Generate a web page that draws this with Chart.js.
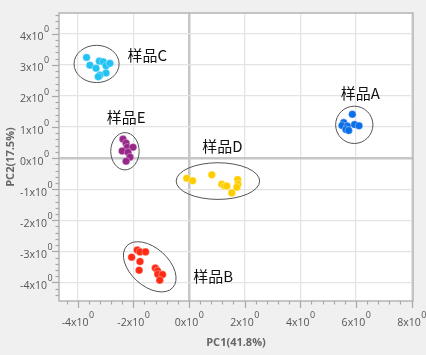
<!DOCTYPE html>
<html><head><meta charset="utf-8">
<script src="https://cdn.jsdelivr.net/npm/chart.js@4"></script>
<style>html,body{margin:0;padding:0;background:#f0f0f0;}canvas{display:block;}</style>
</head><body>
<canvas id="c" width="426" height="355"></canvas>
<script>
// ---- data ----
const categories = ['样品A','样品B','样品C','样品D','样品E'];
const sampleA_PC1 = [5.87,5.56,5.50,5.69,5.95,6.11,5.64,5.74];
const sampleA_PC2 = [1.41,1.14,1.05,1.03,1.08,1.04,0.92,0.89];
const sampleB_PC1 = [-2.06,-1.86,-1.76,-1.56,-1.76,-1.79,-1.21,-1.13,-1.12,-0.95,-1.05];
const sampleB_PC2 = [-3.19,-2.96,-3.02,-3.02,-3.33,-3.61,-3.54,-3.63,-3.74,-3.75,-3.93];
const sampleC_PC1 = [-3.68,-3.56,-3.22,-3.08,-3.34,-2.98,-2.84,-2.98,-3.20,-3.26];
const sampleC_PC2 = [3.24,2.99,3.12,3.10,2.89,2.97,3.05,2.74,2.67,2.62];
const sampleD_PC1 = [-0.08,0.13,0.82,1.18,1.28,1.36,1.54,1.75,1.76,1.72];
const sampleD_PC2 = [-0.65,-0.73,-0.54,-0.84,-0.90,-0.90,-1.12,-0.69,-0.84,-0.94];
const sampleE_PC1 = [-2.37,-2.26,-2.22,-2.01,-2.40,-2.19,-2.12,-2.26];
const sampleE_PC2 = [0.61,0.48,0.35,0.35,0.23,0.19,0.03,-0.10];

// confidence ellipses (data units): A, B, C, D, E
const ellipseCX = [5.94,-1.41,-3.32,1.04,-2.30];
const ellipseCY = [1.07,-3.50,3.03,-0.74,0.22];
const ellipseRX = [0.67,1.116,0.81,1.50,0.51];
const ellipseRY = [0.60,0.611,0.60,0.59,0.60];
const ellipseRotDeg = [0,42,0,0,0];

// group label anchors (data units)
const labelX = [6.16,0.87,-1.50,1.20,-2.26];
const labelY = [2.09,-3.81,3.31,0.38,1.32];

// ticks
const xTickValues = [-4,-2,0,2,4,6,8];
const xTickLabels = ['-4x10','-2x10','0x10','2x10','4x10','6x10','8x10'];
const yTickValues = [4,3,2,1,0,-1,-2,-3,-4];
const yTickLabels = ['4x10','3x10','2x10','1x10','0x10','-1x10','-2x10','-3x10','-4x10'];
const tickExponent = '0';
const xTitle = 'PC1(41.8%)';
const yTitle = 'PC2(17.5%)';

// ---- styles ----
const groupColors = ['#0a6fe8','#ff2b14','#22c2f2','#ffcc00','#98278a'];

const series = [
  [sampleA_PC1, sampleA_PC2],
  [sampleB_PC1, sampleB_PC2],
  [sampleC_PC1, sampleC_PC2],
  [sampleD_PC1, sampleD_PC2],
  [sampleE_PC1, sampleE_PC2]
];
const datasets = series.map((s, i) => ({
  label: categories[i],
  data: s[0].map((x, j) => ({x: x, y: s[1][j]})),
  backgroundColor: groupColors[i],
  borderColor: 'rgba(255,255,255,0.55)',
  borderWidth: 0.6,
  pointRadius: 3.8,
  pointHoverRadius: 3.8
}));

const MAIN_FONT = '10.5px "Open Sans"';
const SUP_FONT = '9px "Open Sans"';
const TICK_COLOR = '#555';

const decor = {
  id: 'decor',
  beforeDraw(chart) {
    const {ctx, chartArea: a} = chart;
    ctx.save();
    ctx.fillStyle = '#f0f0f0';
    ctx.fillRect(0, 0, chart.width, chart.height);
    ctx.fillStyle = '#ffffff';
    ctx.fillRect(a.left, a.top, a.right - a.left, a.bottom - a.top);
    ctx.restore();
  },
  afterDatasetsDraw(chart) {
    const {ctx} = chart;
    const xs = chart.scales.x, ys = chart.scales.y;
    const pxX = Math.abs(xs.getPixelForValue(1) - xs.getPixelForValue(0));
    const pxY = Math.abs(ys.getPixelForValue(1) - ys.getPixelForValue(0));
    ctx.save();
    // ellipses
    ctx.strokeStyle = '#555';
    ctx.lineWidth = 1;
    for (let i = 0; i < ellipseCX.length; i++) {
      ctx.beginPath();
      ctx.ellipse(xs.getPixelForValue(ellipseCX[i]), ys.getPixelForValue(ellipseCY[i]),
        ellipseRX[i] * pxX, ellipseRY[i] * pxY, ellipseRotDeg[i] * Math.PI / 180, 0, Math.PI * 2);
      ctx.stroke();
    }
    // labels
    ctx.fillStyle = '#111';
    ctx.font = '15px "Noto Sans CJK SC"';
    ctx.textAlign = 'center';
    ctx.textBaseline = 'middle';
    for (let i = 0; i < categories.length; i++) {
      ctx.fillText(categories[i], xs.getPixelForValue(labelX[i]), ys.getPixelForValue(labelY[i]));
    }
    ctx.restore();
  },
  afterDraw(chart) {
    const {ctx, chartArea: a} = chart;
    const xs = chart.scales.x, ys = chart.scales.y;
    ctx.save();
    // frame
    ctx.strokeStyle = '#b4b4b4';
    ctx.lineWidth = 1.5;
    ctx.strokeRect(a.left, a.top, a.right - a.left, a.bottom - a.top);
    // y tick marks
    ctx.strokeStyle = '#a8a8a8';
    ctx.lineWidth = 1.2;
    for (let k = -23; k <= 23; k++) {
      const v = k * 0.2;
      if (v < ys.min || v > ys.max) continue;
      const p = Math.round(ys.getPixelForValue(v)) + 0.5;
      const major = k % 5 === 0;
      ctx.beginPath();
      ctx.moveTo(a.left, p);
      ctx.lineTo(a.left - (major ? 7 : 3.5), p);
      ctx.stroke();
    }
    // x tick marks
    for (let k = -12; k <= 21; k++) {
      const v = k * 0.4;
      if (v < xs.min || v > xs.max + 0.01) continue;
      const p = Math.round(xs.getPixelForValue(v)) + 0.5;
      const major = k % 5 === 0;
      ctx.beginPath();
      ctx.moveTo(p, a.bottom);
      ctx.lineTo(p, a.bottom + (major ? 7 : 3.5));
      ctx.stroke();
    }
    // y tick labels
    ctx.fillStyle = TICK_COLOR;
    ctx.textBaseline = 'middle';
    ctx.textAlign = 'left';
    yTickValues.forEach((v, i) => {
      const p = ys.getPixelForValue(v);
      ctx.font = MAIN_FONT;
      const w = ctx.measureText(yTickLabels[i]).width;
      ctx.fillText(yTickLabels[i], 20, p + 3.5);
      ctx.font = SUP_FONT;
      ctx.fillText(tickExponent, 20 + w + 0.5, p - 4);
    });
    // x tick labels
    xTickValues.forEach((v, i) => {
      const p = xs.getPixelForValue(v);
      ctx.font = MAIN_FONT;
      const w = ctx.measureText(xTickLabels[i]).width;
      ctx.font = SUP_FONT;
      const sw = ctx.measureText(tickExponent).width;
      const start = p - (w + sw) / 2;
      ctx.font = MAIN_FONT;
      ctx.fillText(xTickLabels[i], start, a.bottom + 22);
      ctx.font = SUP_FONT;
      ctx.fillText(tickExponent, start + w + 0.5, a.bottom + 14);
    });
    ctx.restore();
  }
};

new Chart(document.getElementById('c'), {
  type: 'scatter',
  data: {datasets: datasets},
  options: {
    responsive: false,
    animation: false,
    events: [],
    layout: {padding: {top: 13, right: 13, left: 0, bottom: 0}},
    plugins: {legend: {display: false}, tooltip: {enabled: false}},
    scales: {
      x: {
        type: 'linear', min: -4.67, max: 8.05,
        afterFit: s => { s.height = 54; },
        ticks: {stepSize: 2, display: false, includeBounds: false},
        grid: {
          drawTicks: false,
          color: c => (c.tick && c.tick.value === 0) ? '#c6c6c6' : '#e4e4e4',
          lineWidth: c => (c.tick && c.tick.value === 0) ? 2.5 : 1.3
        },
        border: {display: false},
        title: {display: true, text: xTitle, color: '#666',
          font: {family: 'Open Sans', size: 11, weight: 'bold'}, padding: {top: 0, bottom: 6}}
      },
      y: {
        type: 'linear', min: -4.6, max: 4.67,
        afterFit: s => { s.width = 59; },
        ticks: {stepSize: 1, display: false, includeBounds: false},
        grid: {
          drawTicks: false,
          color: c => (c.tick && c.tick.value === 0) ? '#c6c6c6' : '#e4e4e4',
          lineWidth: c => (c.tick && c.tick.value === 0) ? 2.5 : 1.3
        },
        border: {display: false},
        title: {display: true, text: yTitle, color: '#666',
          font: {family: 'Open Sans', size: 11, weight: 'bold'}, padding: {top: 4, bottom: 0}}
      }
    }
  },
  plugins: [decor]
});
</script>
</body></html>
